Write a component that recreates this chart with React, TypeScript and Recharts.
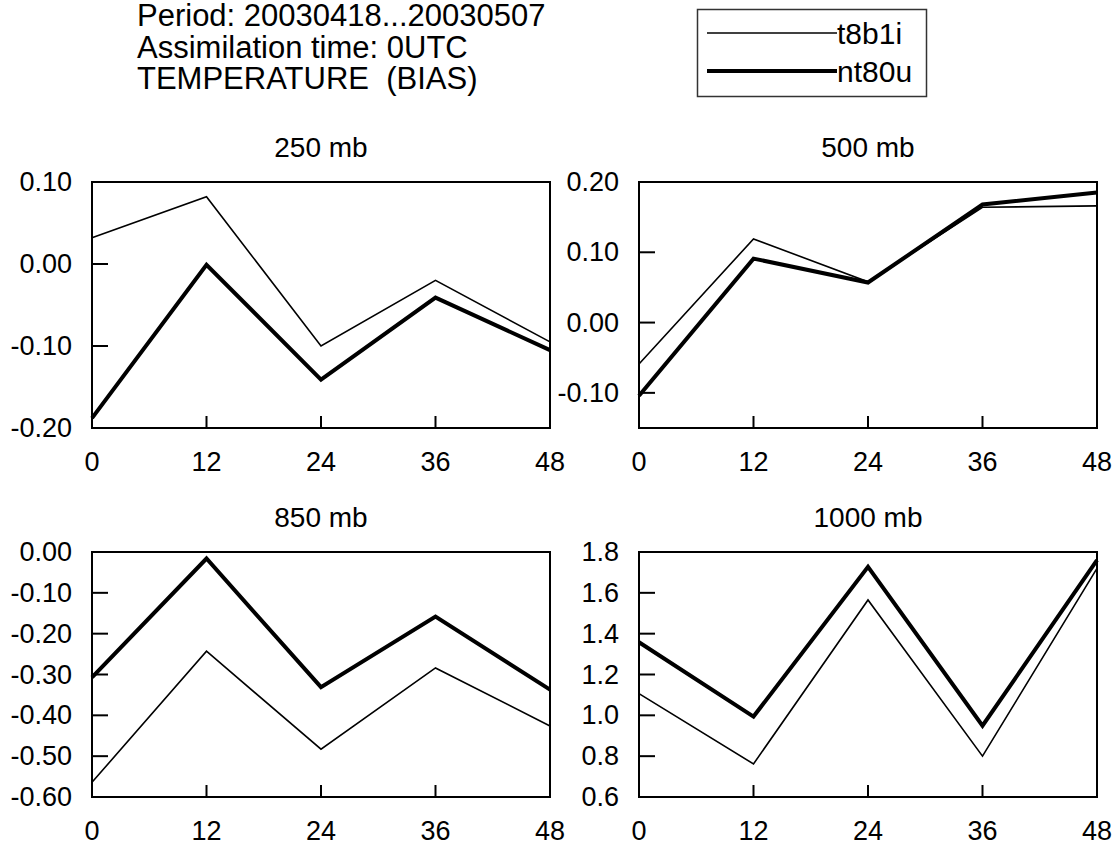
import { Line, LineChart, ReferenceArea, XAxis, YAxis } from "recharts";

const HOURS = [0, 12, 24, 36, 48];

const T8B1I_250 = [0.032, 0.082, -0.1, -0.02, -0.095];
const NT80U_250 = [-0.188, -0.001, -0.141, -0.041, -0.105];
const T8B1I_500 = [-0.059, 0.119, 0.058, 0.164, 0.166];
const NT80U_500 = [-0.104, 0.091, 0.057, 0.168, 0.185];
const T8B1I_850 = [-0.564, -0.243, -0.483, -0.284, -0.426];
const NT80U_850 = [-0.307, -0.016, -0.331, -0.158, -0.337];
const T8B1I_1000 = [1.106, 0.762, 1.565, 0.8, 1.72];
const NT80U_1000 = [1.358, 0.994, 1.727, 0.949, 1.76];

const TICKS_250 = [0.1, 0, -0.1, -0.2];
const TICKS_500 = [0.2, 0.1, 0, -0.1];
const TICKS_850 = [0, -0.1, -0.2, -0.3, -0.4, -0.5, -0.6];
const TICKS_1000 = [1.8, 1.6, 1.4, 1.2, 1.0, 0.8, 0.6];

const TITLE_LINES = [
  "Period: 20030418...20030507",
  "Assimilation time: 0UTC",
  "TEMPERATURE  (BIAS)",
];

const FONT = '"Liberation Sans", Arial, Helvetica, sans-serif';
const Y_AXIS_W = 70;
const X_AXIS_H = 40;

type PanelProps = {
  title: string;
  left: number;
  top: number;
  width: number;
  height: number;
  // plot box inside the panel
  plot: { top: number; right: number; bottom: number; left: number };
  thin: number[];
  thick: number[];
  domain: [number, number];
  ticks: number[];
  digits: number;
};

function Panel(props: PanelProps) {
  const { title, left, top, width, height, plot, thin, thick, domain, ticks, digits } = props;
  const data = HOURS.map((h, i) => ({ hour: h, t8b1i: thin[i], nt80u: thick[i] }));
  const margin = {
    top: plot.top,
    right: width - plot.right,
    bottom: height - plot.bottom - X_AXIS_H,
    left: plot.left - Y_AXIS_W,
  };
  const plotCenter = (plot.left + plot.right) / 2;

  const yTick = (p: any) => {
    const { y, payload } = p;
    return (
      <g>
        <line x1={plot.left} x2={plot.left + 16} y1={y} y2={y} stroke="#000" strokeWidth={2} />
        <text
          x={plot.left - 20}
          y={y}
          textAnchor="end"
          dominantBaseline="central"
          fontSize={27}
          fontFamily={FONT}
          fill="#000"
        >
          {Number(payload.value).toFixed(digits)}
        </text>
      </g>
    );
  };

  const xTick = (p: any) => {
    const { x, payload } = p;
    return (
      <g>
        <line x1={x} x2={x} y1={plot.bottom} y2={plot.bottom - 12} stroke="#000" strokeWidth={2} />
        <text
          x={x}
          y={plot.bottom + 34}
          textAnchor="middle"
          dominantBaseline="central"
          fontSize={27}
          fontFamily={FONT}
          fill="#000"
        >
          {payload.value}
        </text>
      </g>
    );
  };

  return (
    <div style={{ position: "absolute", left, top, width, height }}>
      <div
        style={{
          position: "absolute",
          left: plotCenter - 100,
          width: 200,
          top: -16,
          height: 28,
          lineHeight: "28px",
          textAlign: "center",
          fontSize: 28,
          fontFamily: FONT,
        }}
      >
        {title}
      </div>
      <LineChart width={width} height={height} data={data} margin={margin}>
        <XAxis
          dataKey="hour"
          type="number"
          domain={[0, 48]}
          ticks={HOURS}
          height={X_AXIS_H}
          axisLine={false}
          tickLine={false}
          tick={xTick}
          interval={0}
        />
        <YAxis
          type="number"
          domain={domain}
          ticks={ticks}
          width={Y_AXIS_W}
          axisLine={false}
          tickLine={false}
          tick={yTick}
          interval={0}
        />
        <ReferenceArea
          x1={0}
          x2={48}
          y1={domain[0]}
          y2={domain[1]}
          fill="none"
          stroke="#000"
          strokeWidth={2}
        />
        <Line
          type="linear"
          dataKey="t8b1i"
          stroke="#000"
          strokeWidth={1.6}
          strokeLinejoin="miter"
          dot={false}
          isAnimationActive={false}
        />
        <Line
          type="linear"
          dataKey="nt80u"
          stroke="#000"
          strokeWidth={4}
          strokeLinejoin="miter"
          dot={false}
          isAnimationActive={false}
        />
      </LineChart>
    </div>
  );
}

export default function App() {
  return (
    <div
      style={{
        position: "absolute",
        left: 0,
        top: 0,
        width: 1119,
        height: 848,
        background: "#fff",
        fontFamily: FONT,
        color: "#000",
      }}
    >
      {TITLE_LINES.map((line, i) => (
        <div
          key={line}
          style={{
            position: "absolute",
            left: 137,
            top: i * 31.5,
            height: 32,
            lineHeight: "31px",
            fontSize: 31,
            whiteSpace: "pre",
          }}
        >
          {line}
        </div>
      ))}

      <svg
        width={240}
        height={100}
        style={{ position: "absolute", left: 690, top: 2 }}
      >
        <rect x={7.5} y={7.5} width={229} height={87} fill="none" stroke="#333" strokeWidth={1.5} />
        <line x1={17} x2={147} y1={31} y2={31} stroke="#000" strokeWidth={1.6} />
        <line x1={17} x2={147} y1={69} y2={69} stroke="#000" strokeWidth={4} />
        <text x={147} y={31} dominantBaseline="central" fontSize={30} fontFamily={FONT}>
          t8b1i
        </text>
        <text x={147} y={69} dominantBaseline="central" fontSize={30} fontFamily={FONT}>
          nt80u
        </text>
      </svg>

      <Panel
        title="250 mb"
        left={0}
        top={150}
        width={580}
        height={340}
        plot={{ top: 32, right: 550, bottom: 278, left: 92 }}
        thin={T8B1I_250}
        thick={NT80U_250}
        domain={[-0.2, 0.1]}
        ticks={TICKS_250}
        digits={2}
      />
      <Panel
        title="500 mb"
        left={540}
        top={150}
        width={579}
        height={340}
        plot={{ top: 32, right: 557, bottom: 278, left: 99 }}
        thin={T8B1I_500}
        thick={NT80U_500}
        domain={[-0.15, 0.2]}
        ticks={TICKS_500}
        digits={2}
      />
      <Panel
        title="850 mb"
        left={0}
        top={520}
        width={580}
        height={328}
        plot={{ top: 32, right: 550, bottom: 277, left: 92 }}
        thin={T8B1I_850}
        thick={NT80U_850}
        domain={[-0.6, 0]}
        ticks={TICKS_850}
        digits={2}
      />
      <Panel
        title="1000 mb"
        left={540}
        top={520}
        width={579}
        height={328}
        plot={{ top: 32, right: 557, bottom: 277, left: 99 }}
        thin={T8B1I_1000}
        thick={NT80U_1000}
        domain={[0.6, 1.8]}
        ticks={TICKS_1000}
        digits={1}
      />
    </div>
  );
}
